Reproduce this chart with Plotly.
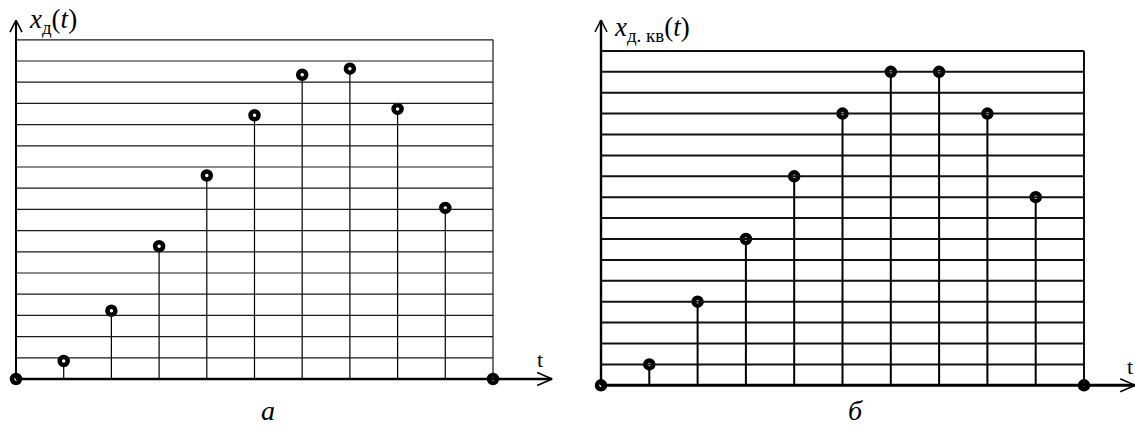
import plotly.graph_objects as go

# Sample indices and signal levels (in grid units) for the two panels
t_idx = list(range(11))
x_sampled = [0, 0.85, 3.22, 6.26, 9.6, 12.44, 14.35, 14.64, 12.74, 8.07, 0]
x_quant = [0, 1, 4, 7, 10, 13, 15, 15, 13, 9, 0]
n_levels = 16

W, H = 1135, 425
SPLIT = 567 / W

fig = go.Figure()

# Per-panel pixel scale (px per sample step, px per level) used for arrowheads
panels = [
    dict(xa="x", ya="y", vals=x_sampled, grid_w=1.2, stem_w=1.2, axis_w=2.0,
         sx=47.7, sy=21.2, xend=11.24, yend=16.93,
         grid_color="#1a1a1a"),
    dict(xa="x2", ya="y2", vals=x_quant, grid_w=2.0, stem_w=2.0, axis_w=2.4,
         sx=48.3, sy=20.9, xend=11.06, yend=17.48,
         grid_color="#111"),
]

shapes = []
for p in panels:
    xr, yr = p["xa"], p["ya"]
    last = t_idx[-1]
    # horizontal level lines and top border
    for k in range(1, n_levels + 1):
        shapes.append(dict(type="line", xref=xr, yref=yr, x0=t_idx[0], x1=last,
                           y0=k, y1=k, line=dict(color=p["grid_color"], width=p["grid_w"])))
    # right border
    shapes.append(dict(type="line", xref=xr, yref=yr, x0=last, x1=last, y0=0, y1=n_levels,
                       line=dict(color=p["grid_color"], width=p["grid_w"])))
    # vertical axis with open arrowhead
    shapes.append(dict(type="line", xref=xr, yref=yr, x0=0, x1=0, y0=0, y1=p["yend"],
                       line=dict(color="black", width=p["axis_w"])))
    hx, hy = 6 / p["sx"], 12 / p["sy"]
    for s in (-1, 1):
        shapes.append(dict(type="line", xref=xr, yref=yr, x0=0, y0=p["yend"],
                           x1=s * hx, y1=p["yend"] - hy,
                           line=dict(color="black", width=1.5)))
    # horizontal axis with open arrowhead
    shapes.append(dict(type="line", xref=xr, yref=yr, x0=0, x1=p["xend"], y0=0, y1=0,
                       line=dict(color="black", width=p["axis_w"] + 0.5)))
    ax_, ay_ = 15 / p["sx"], 6.5 / p["sy"]
    for s in (-1, 1):
        shapes.append(dict(type="line", xref=xr, yref=yr, x0=p["xend"], y0=0,
                           x1=p["xend"] - ax_, y1=s * ay_,
                           line=dict(color="black", width=1.5)))

    # stems
    sx_, sy_ = [], []
    for t, v in zip(t_idx, p["vals"]):
        sx_ += [t, t, None]
        sy_ += [0, v, None]
    fig.add_trace(go.Scatter(x=sx_, y=sy_, mode="lines", xaxis=xr, yaxis=yr,
                             line=dict(color="black", width=p["stem_w"]),
                             hoverinfo="skip", showlegend=False))
    # sample points
    fig.add_trace(go.Scatter(x=t_idx, y=p["vals"], mode="markers", xaxis=xr, yaxis=yr,
                             marker=dict(symbol="circle", size=8, color="white",
                                         line=dict(color="black", width=4.5)),
                             showlegend=False))

serif = "Liberation Serif"
annotations = [
    dict(text="<i>x</i><sub>д</sub>(<i>t</i>)", x=27 / W, y=1 - 21 / H, xref="paper", yref="paper",
         xanchor="left", yanchor="middle", showarrow=False, font=dict(family=serif, size=27, color="black")),
    dict(text="<i>x</i><sub>д. кв</sub>(<i>t</i>)", x=612 / W, y=1 - 29 / H, xref="paper", yref="paper",
         xanchor="left", yanchor="middle", showarrow=False, font=dict(family=serif, size=27, color="black")),
    dict(text="t", x=540 / W, y=1 - 359 / H, xref="paper", yref="paper",
         xanchor="center", yanchor="middle", showarrow=False, font=dict(family=serif, size=22, color="black")),
    dict(text="t", x=1130 / W, y=1 - 366 / H, xref="paper", yref="paper",
         xanchor="center", yanchor="middle", showarrow=False, font=dict(family=serif, size=22, color="black")),
    dict(text="<i>а</i>", x=268 / W, y=1 - 410 / H, xref="paper", yref="paper",
         xanchor="center", yanchor="middle", showarrow=False, font=dict(family=serif, size=28, color="black")),
    dict(text="<i>б</i>", x=855 / W, y=1 - 410 / H, xref="paper", yref="paper",
         xanchor="center", yanchor="middle", showarrow=False, font=dict(family=serif, size=28, color="black")),
]

hidden = dict(showgrid=False, zeroline=False, showticklabels=False, ticks="", showline=False, fixedrange=True)
fig.update_layout(
    width=W, height=H, margin=dict(l=0, r=0, t=0, b=0),
    paper_bgcolor="white", plot_bgcolor="white",
    font=dict(family=serif),
    xaxis=dict(domain=[0, SPLIT], range=[-16 / 47.7, (567 - 16) / 47.7], **hidden),
    yaxis=dict(domain=[0, 1], range=[-(H - 379) / 21.2, 379 / 21.2], **hidden),
    xaxis2=dict(domain=[SPLIT, 1], anchor="y2", range=[-(601 - 567) / 48.3, (W - 601) / 48.3], **hidden),
    yaxis2=dict(domain=[0, 1], anchor="x2", range=[-(H - 385.3) / 20.9, 385.3 / 20.9], **hidden),
    shapes=shapes, annotations=annotations,
)

fig.write_html("out.html")
